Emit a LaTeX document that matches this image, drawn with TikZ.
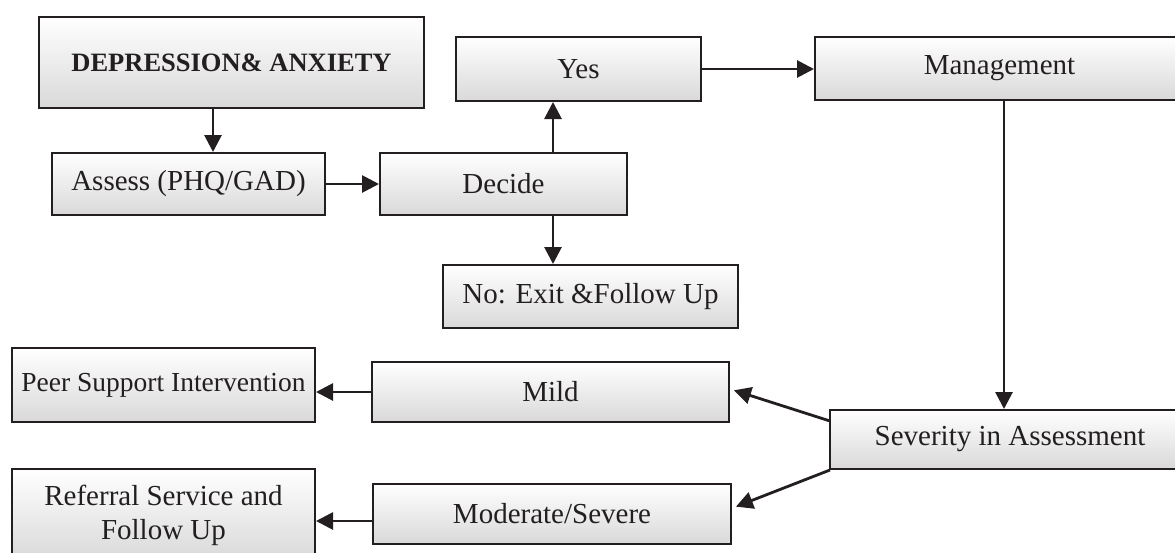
\documentclass[tikz,border=0pt]{standalone}
\usepackage{fontspec}
\setmainfont{Liberation Serif}
\usetikzlibrary{arrows.meta,calc}
\definecolor{ink}{HTML}{231F20}
\tikzset{
  box/.style={rectangle, draw=ink, line width=2.8pt, inner sep=0pt, outer sep=0pt,
    top color=white, bottom color=black!15, text=ink, align=center,
    font=\fontsize{29}{34}\selectfont},
  arr/.style={draw=ink, line width=2.8pt, -{Triangle[length=17pt,width=17pt]}, shorten >=1pt}
}
\begin{document}
\begin{tikzpicture}[x=1pt,y=-1pt]
\useasboundingbox (0,0) rectangle (1175,552);
\clip (0,0) rectangle (1175,552);
\node[box, minimum width=385pt, minimum height=91pt, font=\fontsize{26.5}{32}\selectfont\bfseries] (dep) at (231.5,62.5) {DEPRESSION\& ANXIETY};
\node[box, minimum width=273pt, minimum height=62pt] (assess) at (188.5,184) {Assess (PHQ/GAD)};
\node[box, minimum width=247pt, minimum height=62pt] (decide) at (503.5,184) {Decide};
\node[box, minimum width=245pt, minimum height=64pt] (yes) at (578.5,69) {Yes};
\node[box, minimum width=369pt, minimum height=63pt] (mgmt) at (999.5,68.5) {Management};
\node[box, minimum width=295pt, minimum height=63pt] (no) at (590.5,296.5) {No: Exit \&Follow Up};
\node[box, minimum width=357pt, minimum height=60pt] (mild) at (550.5,392) {Mild};
\node[box, minimum width=358pt, minimum height=60pt] (mod) at (552,514) {Moderate/Severe};
\node[box, minimum width=360pt, minimum height=59pt] (sev) at (1010,439.5) {Severity in Assessment};
\node[box, minimum width=303pt, minimum height=74pt, font=\fontsize{27.5}{33}\selectfont] (peer) at (163.5,385) {Peer Support Intervention};
\node[box, minimum width=303pt, minimum height=92pt] (ref) at (163.5,515) {Referral Service and\\Follow Up};
\coordinate (ax) at (213,0);
\coordinate (dx) at (553,0);
\coordinate (mx) at (1004,0);
\coordinate (s1) at ($(sev.north west)+(0,11)$);
\coordinate (s2) at ($(sev.south west)+(0,1)$);
\draw[arr] (dep.south -| ax) -- (assess.north -| ax);
\draw[arr] (assess.east) -- (decide.west);
\draw[arr] (decide.north -| dx) -- (yes.south -| dx);
\draw[arr] (decide.south -| dx) -- (no.north -| dx);
\draw[arr] (yes.east) -- (yes.east -| mgmt.west);
\draw[arr] (mgmt.south -| mx) -- (sev.north -| mx);
\draw[arr] (s1) -- ($(mild.east)+(4,-2)$);
\draw[arr] (s2) -- ($(mod.east)+(4,-7)$);
\draw[arr] (mild.west) -- (mild.west -| peer.east);
\draw[arr] (mod.west |- 0,521) -- (peer.east |- 0,521);
\end{tikzpicture}
\end{document}
